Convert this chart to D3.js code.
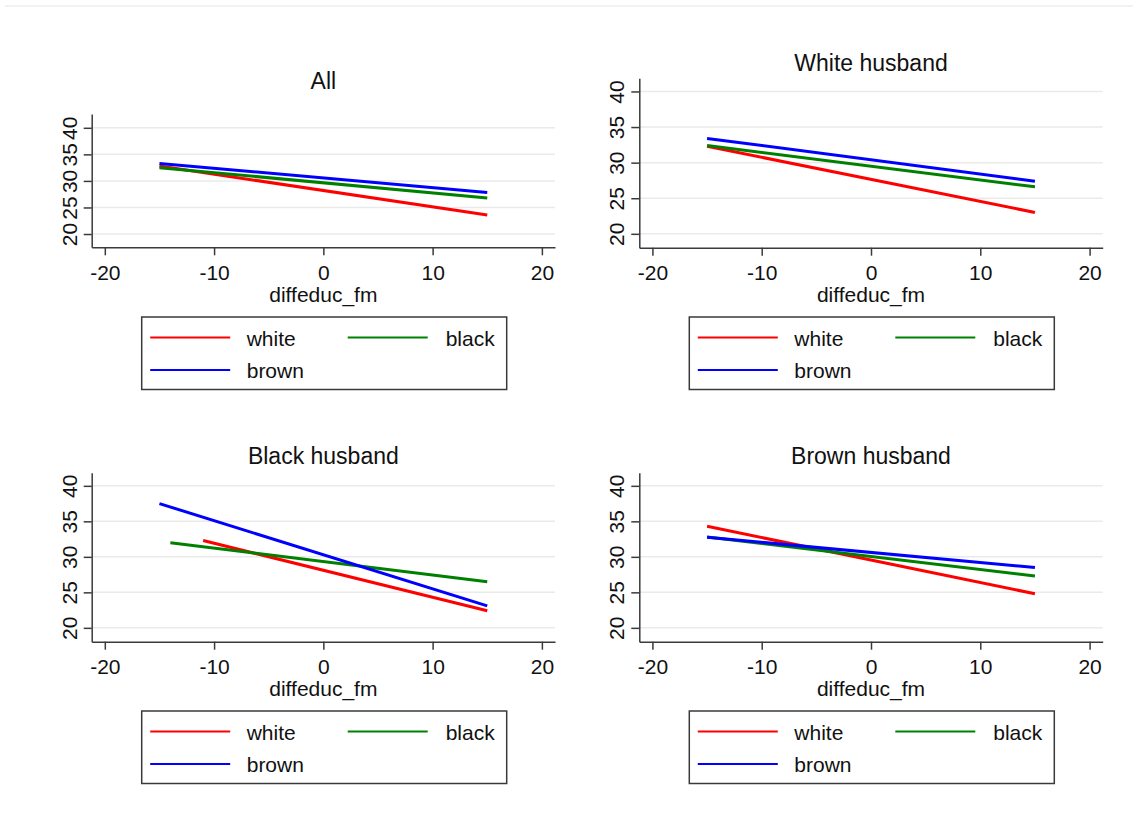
<!DOCTYPE html>
<html>
<head>
<meta charset="utf-8">
<script src="https://cdn.jsdelivr.net/npm/d3@7"></script>
<style>
  body { margin: 0; background: #fff; }
  svg { display: block; font-family: "Liberation Sans", Arial, sans-serif; }
</style>
</head>
<body>
<svg id="chart" width="1133" height="829"></svg>
<script>
// Data
const panelTitles = ["All", "White husband", "Black husband", "Brown husband"];
const seriesNames = ["white", "black", "brown"];
const seriesColors = ["#ff0000", "#008000", "#0000ff"];
const xTicks = [-20, -10, 0, 10, 20];
const yTicks = [20, 25, 30, 35, 40];

// one row per panel, one value per series (white, black, brown)
const startX = [[-15, -15, -15], [-15, -15, -15], [-11, -14, -15], [-15, -15, -15]];
const endX   = [[15, 15, 15], [15, 15, 15], [15, 15, 15], [15, 15, 15]];
const startY = [[32.8, 32.5, 33.3], [32.3, 32.4, 33.4], [32.3, 32.0, 37.5], [34.3, 32.8, 32.75]];
const endY   = [[23.6, 26.8, 27.8], [23.0, 26.6, 27.4], [22.4, 26.5, 23.1], [24.8, 27.3, 28.5]];

// Panel layout
const layout = [
  { left: 91.7, right: 555, top: 114, bottom: 247.3, yDom: [17.5, 42.6], titleY: 89, tickY: 280, labelY: 302, legendY: 317 },
  { left: 639.3, right: 1102.7, top: 78.3, bottom: 247.7, yDom: [18.05, 41.85], titleY: 71, tickY: 280, labelY: 302, legendY: 317 },
  { left: 91.7, right: 555, top: 472.7, bottom: 641.7, yDom: [18.05, 41.85], titleY: 464, tickY: 674, labelY: 696, legendY: 711 },
  { left: 639.3, right: 1102.7, top: 472.7, bottom: 641.7, yDom: [18.05, 41.85], titleY: 464, tickY: 674, labelY: 696, legendY: 711 }
];

const svg = d3.select("#chart");
const axisColor = "#3a3a3a";

// faint border line at top
svg.append("line")
  .attr("x1", 5).attr("x2", 1133).attr("y1", 6).attr("y2", 6)
  .attr("stroke", "#eeeeee").attr("stroke-width", 1.5);

panelTitles.forEach((title, p) => {
  const L = layout[p];
  const g = svg.append("g");

  const x = d3.scaleLinear().domain([-21.2, 21.2]).range([L.left, L.right]);
  const y = d3.scaleLinear().domain(L.yDom).range([L.bottom, L.top]);

  // gridlines
  g.selectAll(".grid").data(yTicks).enter().append("line")
    .attr("x1", L.left).attr("x2", L.right)
    .attr("y1", d => y(d)).attr("y2", d => y(d))
    .attr("stroke", "#eaeaea").attr("stroke-width", 1.5);

  // x axis
  const xAxis = g.append("g")
    .attr("transform", `translate(0,${L.bottom})`)
    .call(d3.axisBottom(x).tickValues(xTicks).tickSize(8).tickSizeOuter(0).tickFormat(d3.format("d")));
  xAxis.select(".domain").attr("stroke", axisColor).attr("stroke-width", 1.5);
  xAxis.selectAll(".tick line").attr("stroke", axisColor).attr("stroke-width", 1.5);
  xAxis.selectAll(".tick text")
    .attr("y", L.tickY - L.bottom).attr("dy", 0)
    .attr("font-size", 21).attr("fill", "#111")
    .attr("font-family", "Liberation Sans, Arial, sans-serif")
    .text(d => d < 0 ? "-" + Math.abs(d) : d);

  // y axis
  const yAxis = g.append("g")
    .attr("transform", `translate(${L.left},0)`)
    .call(d3.axisLeft(y).tickValues(yTicks).tickSize(8).tickSizeOuter(0));
  yAxis.select(".domain").attr("stroke", axisColor).attr("stroke-width", 1.5);
  yAxis.selectAll(".tick line").attr("stroke", axisColor).attr("stroke-width", 1.5);
  yAxis.selectAll(".tick text").remove();
  yAxis.selectAll(".tick").append("text")
    .attr("transform", "translate(-15,0) rotate(-90)")
    .attr("text-anchor", "middle")
    .attr("font-size", 21).attr("fill", "#111")
    .attr("font-family", "Liberation Sans, Arial, sans-serif")
    .text(d => d);

  // series lines
  seriesNames.forEach((s, i) => {
    const pts = [[startX[p][i], startY[p][i]], [endX[p][i], endY[p][i]]];
    g.append("path")
      .datum(pts)
      .attr("fill", "none")
      .attr("stroke", seriesColors[i])
      .attr("stroke-width", 3)
      .attr("d", d3.line().x(d => x(d[0])).y(d => y(d[1])));
  });

  // title
  const cx = (L.left + L.right) / 2;
  g.append("text")
    .attr("x", cx).attr("y", L.titleY)
    .attr("text-anchor", "middle")
    .attr("font-size", 23).attr("fill", "#111")
    .text(title);

  // x label
  g.append("text")
    .attr("x", cx).attr("y", L.labelY)
    .attr("text-anchor", "middle")
    .attr("font-size", 21).attr("fill", "#111")
    .text("diffeduc_fm");

  // legend
  const lx = L.left + 50;
  const leg = g.append("g").attr("transform", `translate(${lx},${L.legendY})`);
  leg.append("rect")
    .attr("width", 365).attr("height", 72.5)
    .attr("fill", "#fff").attr("stroke", axisColor).attr("stroke-width", 1.5);
  const legPos = [
    { lx: 8.5, ly: 20.5, tx: 105, anchor: "start" },
    { lx: 206, ly: 20.5, tx: 353, anchor: "end" },
    { lx: 8.5, ly: 53, tx: 105, anchor: "start" }
  ];
  seriesNames.forEach((s, i) => {
    const lp = legPos[i];
    leg.append("line")
      .attr("x1", lp.lx).attr("x2", lp.lx + 80)
      .attr("y1", lp.ly).attr("y2", lp.ly)
      .attr("stroke", seriesColors[i]).attr("stroke-width", 1.8);
    leg.append("text")
      .attr("x", lp.tx).attr("y", lp.ly + 8)
      .attr("text-anchor", lp.anchor)
      .attr("font-size", 21).attr("fill", "#111")
      .text(s);
  });
});
</script>
</body>
</html>
